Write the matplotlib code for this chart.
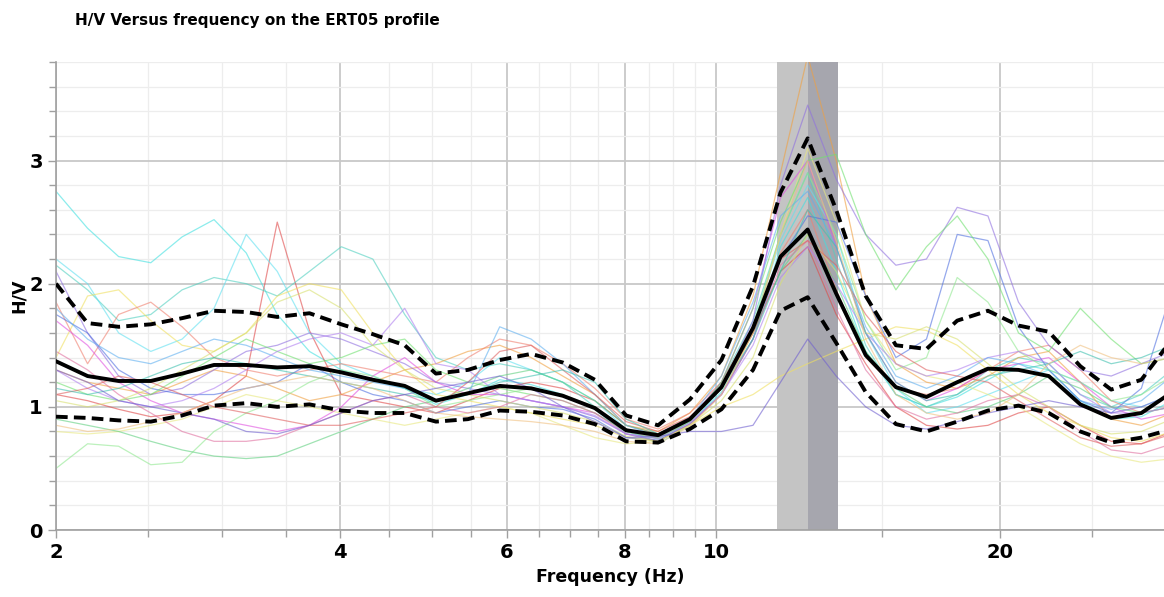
import matplotlib
matplotlib.use("Agg")
import matplotlib.pyplot as plt
from matplotlib.ticker import FixedLocator, NullFormatter, MultipleLocator

# frequency samples (Hz)
freq = [2.00, 2.16, 2.33, 2.52, 2.72, 2.94, 3.18, 3.43, 3.71, 4.01, 4.33, 4.68, 5.05,
        5.46, 5.90, 6.37, 6.88, 7.44, 8.03, 8.68, 9.38, 10.13, 10.94, 11.7, 12.5, 13.4,
        14.4, 15.5, 16.7, 18.0, 19.4, 20.9, 22.5, 24.3, 26.2, 28.2, 30.4]

# average H/V and +/- std curves
hv_mean = [1.37, 1.25, 1.21, 1.21, 1.27, 1.34, 1.34, 1.32, 1.33, 1.28, 1.22, 1.17, 1.05,
           1.11, 1.17, 1.15, 1.09, 0.99, 0.81, 0.77, 0.90, 1.16, 1.64, 2.22, 2.44, 1.92,
           1.42, 1.16, 1.08, 1.20, 1.31, 1.30, 1.25, 1.02, 0.91, 0.95, 1.12]
hv_upper = [2.00, 1.68, 1.65, 1.67, 1.72, 1.78, 1.77, 1.73, 1.76, 1.67, 1.59, 1.50, 1.27,
            1.30, 1.38, 1.43, 1.36, 1.22, 0.93, 0.85, 1.06, 1.38, 1.98, 2.74, 3.18, 2.60,
            1.90, 1.50, 1.47, 1.70, 1.78, 1.66, 1.61, 1.33, 1.14, 1.22, 1.55]
hv_lower = [0.92, 0.91, 0.89, 0.88, 0.93, 1.01, 1.03, 1.00, 1.02, 0.97, 0.95, 0.95, 0.88,
            0.90, 0.97, 0.96, 0.93, 0.86, 0.72, 0.71, 0.82, 0.98, 1.30, 1.78, 1.89, 1.52,
            1.12, 0.86, 0.80, 0.88, 0.97, 1.01, 0.95, 0.80, 0.71, 0.75, 0.82]

# peak frequency band
f0_low, f0, f0_high = 11.6, 12.52, 13.47

# individual window curves
curves = [
    [2.75, 2.45, 2.22, 2.17, 2.38, 2.52, 2.25, 1.75, 1.45, 1.30, 1.22, 1.15, 1.02, 1.10, 1.22, 1.18, 1.10, 0.98, 0.78,
     0.72, 0.86, 1.12, 1.55, 2.30, 2.70, 2.10, 1.45, 1.10, 1.00, 1.08, 1.22, 1.35, 1.30, 1.05, 0.90, 0.92, 1.05],
    [1.10, 1.05, 0.98, 0.92, 0.95, 1.05, 1.25, 2.50, 1.62, 1.10, 1.05, 1.00, 0.95, 1.05, 1.15, 1.20, 1.15, 1.05, 0.85,
     0.78, 0.90, 1.15, 1.60, 2.10, 2.30, 1.75, 1.35, 1.00, 0.85, 0.82, 0.85, 0.95, 1.00, 0.85, 0.72, 0.70, 0.80],
    [2.15, 1.95, 1.70, 1.75, 1.95, 2.05, 2.00, 1.90, 2.10, 2.30, 2.20, 1.75, 1.40, 1.30, 1.35, 1.30, 1.20, 1.00, 0.80,
     0.72, 0.88, 1.20, 1.70, 2.40, 2.90, 2.20, 1.50, 1.10, 1.00, 1.10, 1.30, 1.40, 1.35, 1.10, 1.00, 1.10, 1.30],
    [2.20, 2.00, 1.60, 1.45, 1.55, 1.80, 2.40, 2.10, 1.60, 1.35, 1.25, 1.15, 1.10, 1.20, 1.40, 1.30, 1.20, 1.05, 0.82,
     0.70, 0.85, 1.15, 1.65, 2.35, 2.80, 2.40, 1.60, 1.15, 0.95, 1.00, 1.10, 1.20, 1.30, 1.20, 1.05, 1.00, 1.10],
    [1.40, 1.90, 1.95, 1.70, 1.50, 1.45, 1.60, 1.90, 2.00, 1.95, 1.60, 1.30, 1.10, 1.05, 1.00, 0.95, 0.90, 0.85, 0.75,
     0.72, 0.85, 1.00, 1.10, 1.25, 1.35, 1.45, 1.55, 1.65, 1.62, 1.50, 1.30, 1.10, 0.95, 0.85, 0.75, 0.72, 0.80],
    [0.80, 0.78, 0.80, 0.85, 0.90, 1.00, 1.10, 1.05, 1.00, 0.95, 0.90, 0.85, 0.90, 0.95, 1.00, 0.95, 0.85, 0.75, 0.70,
     0.72, 0.85, 1.10, 1.60, 2.40, 3.10, 2.50, 1.70, 1.35, 1.25, 1.20, 1.10, 1.00, 0.85, 0.70, 0.60, 0.55, 0.58],
    [1.30, 1.20, 1.15, 1.10, 1.20, 1.30, 1.25, 1.15, 1.05, 1.10, 1.20, 1.30, 1.35, 1.45, 1.50, 1.40, 1.25, 1.10, 0.85,
     0.80, 0.95, 1.25, 1.90, 2.90, 3.85, 3.00, 1.90, 1.35, 1.20, 1.15, 1.25, 1.40, 1.45, 1.20, 0.90, 0.85, 0.95],
    [1.85, 1.35, 1.75, 1.85, 1.65, 1.40, 1.30, 1.25, 1.30, 1.35, 1.30, 1.25, 1.20, 1.40, 1.55, 1.50, 1.35, 1.15, 0.90,
     0.82, 0.95, 1.20, 1.65, 2.25, 2.60, 1.95, 1.40, 1.15, 1.10, 1.15, 1.30, 1.45, 1.50, 1.30, 1.05, 0.95, 1.00],
    [1.70, 1.50, 1.20, 1.05, 0.95, 0.90, 0.85, 0.80, 0.85, 1.00, 1.25, 1.40, 1.20, 1.10, 1.10, 1.05, 1.00, 0.95, 0.80,
     0.75, 0.90, 1.20, 1.80, 2.70, 3.00, 2.30, 1.60, 1.20, 1.05, 1.15, 1.30, 1.35, 1.40, 1.20, 1.00, 0.90, 0.95],
    [2.10, 1.60, 1.25, 1.10, 1.15, 1.30, 1.45, 1.50, 1.60, 1.55, 1.45, 1.35, 1.20, 1.15, 1.10, 1.05, 1.00, 0.92, 0.78,
     0.75, 0.88, 1.15, 1.70, 2.80, 3.45, 2.85, 2.40, 2.15, 2.20, 2.62, 2.55, 1.85, 1.50, 1.30, 1.25, 1.35, 1.45],
    [1.75, 1.60, 1.30, 1.15, 1.10, 1.10, 1.15, 1.20, 1.35, 1.20, 1.10, 1.05, 0.95, 1.00, 1.05, 1.00, 0.98, 0.90, 0.75,
     0.73, 0.86, 1.10, 1.55, 2.20, 2.55, 2.50, 1.90, 1.40, 1.55, 2.40, 2.35, 1.65, 1.30, 1.05, 0.95, 1.15, 1.95],
    [1.20, 1.10, 1.05, 1.10, 1.25, 1.40, 1.55, 1.45, 1.35, 1.40, 1.50, 1.55, 1.30, 1.20, 1.15, 1.10, 1.05, 0.95, 0.80,
     0.74, 0.88, 1.20, 1.80, 2.50, 3.00, 3.05, 2.40, 1.95, 2.30, 2.55, 2.20, 1.60, 1.45, 1.80, 1.55, 1.35, 1.40],
    [0.50, 0.70, 0.68, 0.53, 0.55, 0.80, 0.95, 1.05, 1.20, 1.30, 1.25, 1.15, 1.00, 1.05, 1.10, 1.15, 1.10, 1.00, 0.82,
     0.75, 0.88, 1.15, 1.65, 2.40, 2.90, 2.40, 1.70, 1.30, 1.40, 2.05, 1.85, 1.45, 1.30, 1.20, 1.05, 1.10, 1.25],
    [0.90, 0.85, 0.80, 0.72, 0.65, 0.60, 0.58, 0.60, 0.70, 0.80, 0.90, 1.00, 1.05, 1.15, 1.25, 1.30, 1.20, 1.05, 0.85,
     0.78, 0.90, 1.15, 1.60, 2.10, 2.40, 2.00, 1.45, 1.15, 1.00, 0.95, 1.00, 1.10, 1.25, 1.15, 1.00, 0.95, 1.00],
    [1.45, 1.30, 1.10, 0.95, 0.80, 0.72, 0.72, 0.75, 0.85, 0.95, 1.05, 1.10, 1.00, 0.95, 1.00, 1.10, 1.05, 0.95, 0.78,
     0.72, 0.86, 1.10, 1.55, 2.15, 2.35, 1.80, 1.30, 1.00, 0.90, 0.95, 1.05, 1.10, 1.00, 0.80, 0.65, 0.62, 0.70],
    [1.30, 1.15, 1.05, 1.00, 1.05, 1.15, 1.30, 1.45, 1.55, 1.60, 1.50, 1.80, 1.35, 1.30, 1.10, 1.05, 1.00, 0.93, 0.78,
     0.74, 0.87, 1.10, 1.50, 2.05, 2.30, 2.00, 1.60, 1.35, 1.25, 1.30, 1.40, 1.45, 1.35, 1.10, 0.95, 0.95, 1.00],
    [1.80, 1.55, 1.40, 1.35, 1.45, 1.55, 1.50, 1.40, 1.30, 1.25, 1.20, 1.15, 1.05, 1.10, 1.65, 1.55, 1.35, 1.10, 0.85,
     0.76, 0.90, 1.25, 1.85, 2.55, 2.75, 2.30, 1.65, 1.25, 1.15, 1.25, 1.40, 1.35, 1.25, 1.05, 0.98, 1.05, 1.25],
    [1.05, 1.00, 1.05, 1.15, 1.30, 1.45, 1.60, 1.85, 1.95, 1.80, 1.50, 1.30, 1.15, 1.10, 1.05, 1.00, 0.95, 0.88, 0.76,
     0.72, 0.85, 1.05, 1.40, 2.00, 2.40, 2.10, 1.60, 1.55, 1.65, 1.55, 1.35, 1.15, 1.00, 0.85, 0.78, 0.80, 0.90],
    [1.10, 1.15, 1.25, 1.20, 1.10, 1.00, 0.95, 0.90, 0.85, 0.85, 0.90, 0.95, 1.00, 1.20, 1.45, 1.50, 1.30, 1.10, 0.88,
     0.80, 0.92, 1.15, 1.60, 2.20, 2.35, 2.15, 1.75, 1.45, 1.30, 1.25, 1.20, 1.05, 0.90, 0.75, 0.68, 0.70, 0.78],
    [1.15, 1.10, 1.15, 1.25, 1.35, 1.40, 1.35, 1.30, 1.25, 1.20, 1.15, 1.10, 1.05, 1.10, 1.20, 1.25, 1.30, 1.20, 0.90,
     0.78, 0.90, 1.15, 1.55, 2.10, 2.60, 2.30, 1.60, 1.20, 1.05, 1.10, 1.25, 1.30, 1.35, 1.45, 1.35, 1.40, 1.50],
    [1.30, 1.20, 1.05, 1.00, 0.95, 0.90, 0.80, 0.78, 0.85, 0.95, 1.05, 1.10, 1.15, 1.20, 1.25, 1.15, 1.00, 0.88, 0.75,
     0.76, 0.80, 0.80, 0.85, 1.20, 1.55, 1.25, 1.00, 0.85, 0.82, 0.88, 0.95, 1.00, 1.05, 1.00, 0.95, 1.00, 1.10],
    [0.85, 0.80, 0.82, 0.88, 0.95, 1.05, 1.15, 1.20, 1.25, 1.20, 1.15, 1.05, 0.95, 0.92, 0.90, 0.88, 0.85, 0.80, 0.72,
     0.70, 0.84, 1.10, 1.60, 2.40, 3.00, 2.35, 1.55, 1.10, 0.95, 0.90, 0.95, 1.10, 1.35, 1.50, 1.40, 1.35, 1.40],
]
colors = ["#40e0e0", "#e04848", "#50d0c0", "#60e0f0", "#f0e060", "#e8e880", "#f0a040", "#f08070",
          "#e050e0", "#9070e0", "#5070e0", "#70e070", "#90e890", "#60d080", "#e070a0", "#b080f0",
          "#60b0f0", "#d8e070", "#e06060", "#40c0b0", "#7060d0", "#f0c080"]

fig = plt.figure(figsize=(11.64, 5.97), dpi=100)
ax = fig.add_axes([56 / 1164, 67 / 597, 1 - 56 / 1164, 468 / 597])

ax.axvspan(f0_low, f0, color="#c4c4c4", lw=0, zorder=1)
ax.axvspan(f0, f0_high, color="#a6a6ae", lw=0, zorder=1)

for c, col in zip(curves, colors):
    ax.plot(freq, c, color=col, lw=0.9, alpha=0.6, zorder=2)

ax.plot(freq, hv_mean, color="black", lw=2.8, zorder=4)
ax.plot(freq, hv_upper, color="black", lw=2.8, ls=(0, (3, 1.6)), zorder=4)
ax.plot(freq, hv_lower, color="black", lw=2.8, ls=(0, (3, 1.6)), zorder=4)

ax.set_xscale("log")
ax.set_xlim(2, 29.8)
ax.set_ylim(0, 3.8)

ax.xaxis.set_major_locator(FixedLocator([2, 4, 6, 8, 10, 20]))
ax.xaxis.set_minor_locator(FixedLocator([2.5, 3, 3.5, 4.5, 5, 5.5, 6.5, 7, 7.5, 8.5, 9, 9.5, 15, 25]))
ax.xaxis.set_minor_formatter(NullFormatter())
ax.set_xticklabels(["2", "4", "6", "8", "10", "20"])
ax.yaxis.set_major_locator(FixedLocator([0, 1, 2, 3]))
ax.yaxis.set_minor_locator(MultipleLocator(0.2))

ax.set_axisbelow(True)
ax.grid(which="major", color="#c8c8c8", lw=1.3)
ax.grid(which="minor", color="#ededed", lw=0.9)

for s in ["top", "right"]:
    ax.spines[s].set_visible(False)
for s in ["left", "bottom"]:
    ax.spines[s].set_color("#a0a0a0")
    ax.spines[s].set_linewidth(1.2)

ax.tick_params(which="both", color="#a0a0a0", width=1)
ax.tick_params(which="major", length=6, labelsize=14)
ax.tick_params(which="minor", length=5)
for lab in ax.get_xticklabels() + ax.get_yticklabels():
    lab.set_fontweight("bold")

ax.set_xlabel("Frequency (Hz)", fontsize=12.5, fontweight="bold", labelpad=4)
ax.set_ylabel("H/V", fontsize=12.5, fontweight="bold", labelpad=1)

fig.text(75 / 1164, 1 - 20 / 597, "H/V Versus frequency on the ERT05 profile",
         fontsize=11, fontweight="bold", va="center", ha="left")

fig.savefig("out.png", dpi=100)
